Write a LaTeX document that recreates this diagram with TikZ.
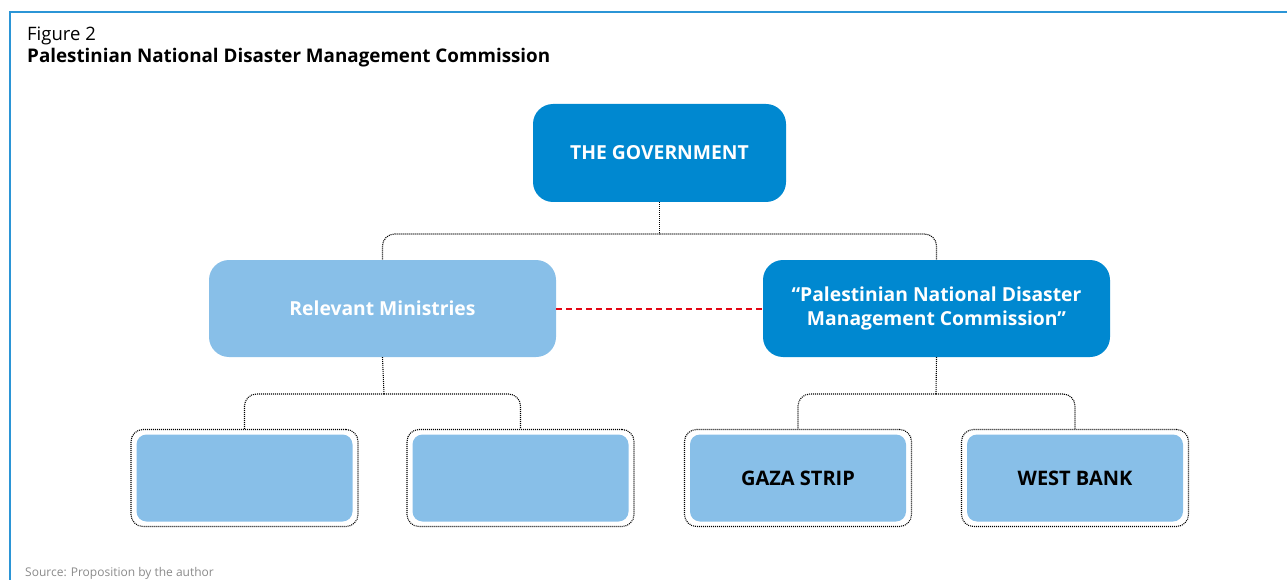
\documentclass[tikz,border=0pt]{standalone}
\usepackage{fontspec}
\setmainfont{Open Sans}
\usepackage{tikz}
\usetikzlibrary{positioning}
\definecolor{govblue}{HTML}{0088D0}
\definecolor{paleblue}{HTML}{88BFE8}
\definecolor{frameblue}{HTML}{2B95D6}
\definecolor{linkred}{HTML}{E30613}
\definecolor{srcgray}{HTML}{8A8A8A}
\tikzset{
    %Define style for the dark boxes
    darkrect/.style={
           rectangle,
           rounded corners=20pt,
           fill=govblue,
           minimum width=253pt,
           minimum height=98pt,
           font=\fontsize{19.3}{24}\selectfont\bfseries,
           text=white,
           align=center},
    lightrect/.style={
           darkrect,
           fill=paleblue,
           minimum width=347pt,
           minimum height=97pt},
    % Dotted frame of the lower boxes
    slot/.style={
           rectangle,
           rounded corners=12pt,
           draw=black, line width=1.1pt,
           dash pattern=on 1pt off 1pt,
           minimum width=227pt,
           minimum height=97pt},
    slotfill/.style={
           rectangle,
           rounded corners=10pt,
           fill=paleblue,
           minimum width=216pt,
           minimum height=87pt,
           font=\fontsize{20}{24}\selectfont\bfseries,
           text=black},
    % Define connector styles
    tree/.style={
           draw=black, line width=1.1pt,
           dash pattern=on 1pt off 1pt,
           rounded corners=12pt},
    link/.style={
           draw=linkred, line width=2pt,
           dash pattern=on 6pt off 4pt}
}
\begin{document}
\begin{tikzpicture}[x=1pt,y=-1pt]
\useasboundingbox (0,0) rectangle (1287,580);
% outer frame
\draw[frameblue, line width=2pt] (9.5,580) -- (9.5,12) -- (1287,12);
\node[anchor=base west, inner sep=0pt, font=\fontsize{18.5}{22}\selectfont] (fig) at (27,41) {Figure 2};
\node[anchor=base west, inner sep=0pt, font=\fontsize{18.8}{22}\selectfont\bfseries] (title) at (27,63) {Palestinian National Disaster Management Commission};
\node[anchor=base west, inner sep=0pt, font=\fontsize{12}{14}\selectfont, text=srcgray] (src) at (25,576) {Source: Proposition by the author};

% boxes
\node[darkrect] (gov) at (659.5,153) {\raisebox{-2pt}{THE GOVERNMENT}};
\node[lightrect] (min) at (382.5,308.5) {Relevant Ministries};
\node[darkrect, minimum width=347pt, minimum height=97pt] (pndmc) at (936.5,308.5) {``Palestinian National Disaster\\ Management Commission''};

\node[slot] (s1) at (244.5,478) {};
\node[slot] (s2) at (520.5,478) {};
\node[slot] (s3) at (798,478) {};
\node[slot] (s4) at (1075,478) {};
\node[slotfill] (b1) at (s1) {};
\node[slotfill] (b2) at (s2) {};
\node[slotfill] (gaza) at (s3) {GAZA STRIP};
\node[slotfill] (west) at (s4) {WEST BANK};

% joints of the tree
\coordinate (govjoin) at (659.5,234);
\coordinate (minjoin) at (384,394);
\coordinate (pnjoin) at (936,394);

\draw[tree] (gov.south) -- (govjoin);
\draw[tree] (govjoin) -| (min.north);
\draw[tree] (govjoin) -| (pndmc.north);
\draw[tree] (min.south) -- (minjoin);
\draw[tree] (minjoin) -| (s1.north);
\draw[tree] (minjoin) -| (s2.north);
\draw[tree] (pndmc.south) -- (pnjoin);
\draw[tree] (pnjoin) -| (s3.north);
\draw[tree] (pnjoin) -| (s4.north);

\draw[link] (min.east) -- (pndmc.west);
\end{tikzpicture}
\end{document}
